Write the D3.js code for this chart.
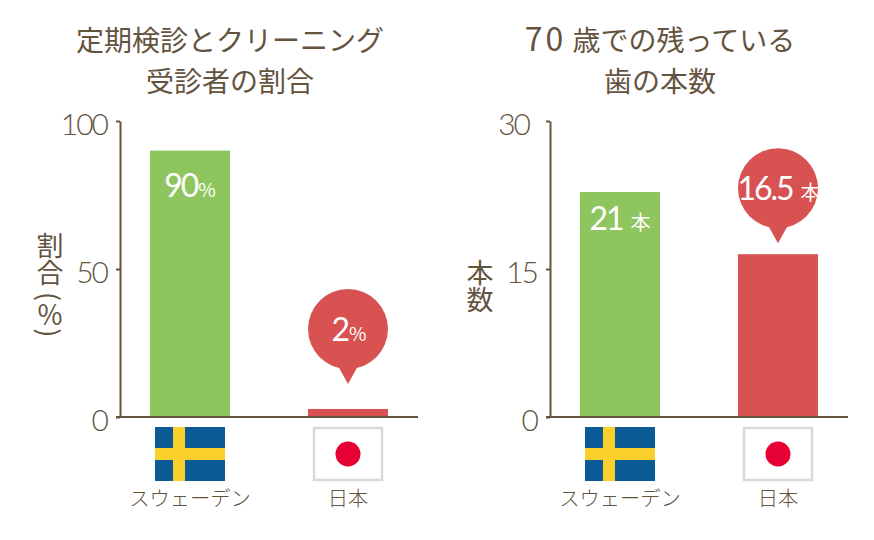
<!DOCTYPE html>
<html>
<head>
<meta charset="utf-8">
<script src="https://cdn.jsdelivr.net/npm/d3@7"></script>
<style>
  html, body { margin: 0; padding: 0; background: #fff; }
  svg { display: block; }
  text { font-family: "Noto Sans CJK JP", sans-serif; font-weight: 400; fill: #64543f; }
</style>
</head>
<body>
<script>
// data
const countries = ["スウェーデン", "日本"];
const shareValues = [90, 2.7];
const shareLabels = ["90", "2"];
const shareTicks = [0, 50, 100];
const teethValues = [22.8, 16.5];
const teethLabels = ["21", "16.5"];
const teethTicks = [0, 15, 30];

// colours
const brown = "#64543f";
const barColors = ["#8fc55f", "#d85252"];

// SVG size
const width = 874;
const height = 540;

const svg = d3.select("body")
    .append("svg")
    .attr("width", width)
    .attr("height", height);

// one panel = title, axes, two bars, flags, callouts
function drawPanel(cfg) {
    const g = svg.append("g").attr("transform", "translate(" + cfg.left + ",0)");

    const x = d3.scaleBand()
        .domain(countries)
        .range([30, 268])
        .paddingInner(78 / 158)
        .paddingOuter(0);

    const y = d3.scaleLinear()
        .domain([0, cfg.ticks[2]])
        .range([417, 121]);

    // title
    cfg.title.forEach((line, i) => {
        const t = g.append("text")
            .attr("x", 110)
            .attr("y", 51 + i * 41)
            .attr("text-anchor", "middle")
            .style("font-size", "28px");
        // the digits in the title are set wider than the rest
        const m = line.match(/^(\d+)(.*)$/);
        if (m) {
            t.append("tspan")
                .style("font-size", "32px")
                .style("letter-spacing", "3px")
                .text(m[1]);
            t.append("tspan").text(m[2]);
        } else {
            t.text(line);
        }
    });

    // bars
    g.selectAll("rect.bar")
        .data(cfg.values)
        .enter()
        .append("rect")
        .attr("class", "bar")
        .attr("x", (d, i) => x(countries[i]))
        .attr("y", d => y(d))
        .attr("width", x.bandwidth())
        .attr("height", d => y(0) - y(d))
        .attr("fill", (d, i) => barColors[i]);

    // Y axis
    const yAxis = d3.axisLeft(y)
        .tickValues(cfg.ticks)
        .tickSize(4)
        .tickPadding(9)
        .tickSizeOuter(0);

    const axisG = g.append("g").call(yAxis);
    axisG.select(".domain").attr("stroke", brown).attr("stroke-width", 2);
    axisG.selectAll(".tick line").attr("stroke", brown).attr("stroke-width", 2);
    axisG.selectAll(".tick text")
        .attr("dy", "0.46em")
        .style("font-family", "Lato, sans-serif")
        .style("font-size", "30px")
        .style("font-weight", 300)
        .style("letter-spacing", "-2px")
        .style("fill", brown);
    axisG.selectAll(".tick text")
        .filter(d => d === 30)
        .attr("x", -21);

    // X axis line
    const xAxis = d3.axisBottom(x).tickSize(0).tickFormat("");
    const xG = g.append("g").attr("transform", "translate(0,417)").call(xAxis);
    xG.select(".domain")
        .attr("d", "M-4,0H298")
        .attr("stroke", brown)
        .attr("stroke-width", 2);

    // axis title
    g.append("text")
        .attr("x", cfg.yTitleX)
        .attr("y", cfg.yTitleY)
        .style("writing-mode", "vertical-rl")
        .style("font-size", "27px")
        .text(cfg.yTitle);

    // flags
    const sx = x(countries[0]) + 5;
    const flagS = g.append("g").attr("transform", "translate(" + sx + ",427)");
    flagS.append("rect").attr("width", 70).attr("height", 54).attr("fill", "#0b5a96");
    flagS.append("rect").attr("x", 18).attr("width", 12).attr("height", 54).attr("fill", "#fcd02c");
    flagS.append("rect").attr("y", 21).attr("width", 70).attr("height", 12).attr("fill", "#fcd02c");

    const jx = x(countries[1]) + 5;
    const flagJ = g.append("g").attr("transform", "translate(" + jx + ",427)");
    flagJ.append("rect").attr("x", 1).attr("y", 1).attr("width", 68).attr("height", 52)
        .attr("fill", "#fff").attr("stroke", "#d9d9d9").attr("stroke-width", 2.5);
    flagJ.append("circle").attr("cx", 35).attr("cy", 27).attr("r", 12.5).attr("fill", "#e60033");

    // country names
    g.selectAll("text.country")
        .data(countries)
        .enter()
        .append("text")
        .attr("class", "country")
        .attr("x", d => x(d) + x.bandwidth() / 2)
        .attr("y", 506)
        .attr("text-anchor", "middle")
        .style("font-size", "20.3px")
        .style("font-weight", 300)
        .text(d => d);

    // label inside the first bar
    valueLabel(g, x(countries[0]) + x.bandwidth() / 2,
        y(cfg.values[0]) + cfg.barLabelDy, cfg.labels[0], cfg.unit);

    // callout over the second bar
    const cx = x(countries[1]) + x.bandwidth() / 2;
    const tip = y(cfg.values[1]) - cfg.tipGap;
    const cy = tip - 55;
    g.append("circle").attr("cx", cx).attr("cy", cy).attr("r", 40).attr("fill", barColors[1]);
    g.append("path")
        .attr("d", d3.line()([[cx - 10, cy + 37], [cx, tip], [cx + 10, cy + 37]]))
        .attr("fill", barColors[1]);
    valueLabel(g, cx + 1, cy + 12, cfg.labels[1], cfg.unit);
}

function valueLabel(g, cx, baseline, label, unit) {
    const t = g.append("text")
        .attr("x", cx)
        .attr("y", baseline)
        .attr("text-anchor", "middle")
        .style("fill", "#fff");
    t.append("tspan")
        .style("font-family", "Lato, sans-serif")
        .style("font-size", "32px")
        .style("font-weight", 400)
        .style("letter-spacing", "-2px")
        .style("fill", "#fff")
        .text(label);
    t.append("tspan")
        .attr("dx", unit === "本" ? 8 : 1)
        .style("font-size", unit === "本" ? "20px" : "19px")
        .style("font-weight", 400)
        .style("fill", "#fff")
        .text(unit);
}

drawPanel({
    left: 120,
    title: ["定期検診とクリーニング", "受診者の割合"],
    values: shareValues,
    labels: shareLabels,
    ticks: shareTicks,
    unit: "%",
    yTitle: "割合 (％)",
    yTitleX: -70,
    yTitleY: 232,
    barLabelDy: 46,
    tipGap: 25
});

drawPanel({
    left: 550,
    title: ["70 歳での残っている", "歯の本数"],
    values: teethValues,
    labels: teethLabels,
    ticks: teethTicks,
    unit: "本",
    yTitle: "本数",
    yTitleX: -70,
    yTitleY: 259,
    barLabelDy: 38,
    tipGap: 11
});
</script>
</body>
</html>
